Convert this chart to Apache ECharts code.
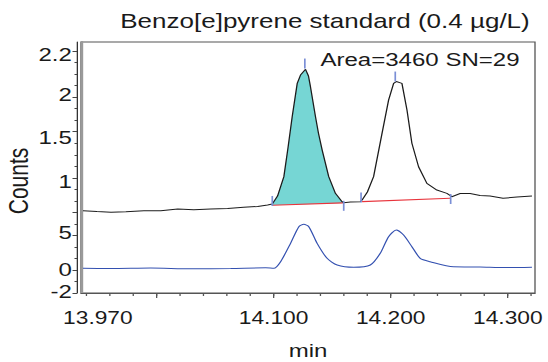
<!DOCTYPE html>
<html>
<head>
<meta charset="utf-8">
<script src="https://cdn.jsdelivr.net/npm/echarts@6/dist/echarts.min.js"></script>
<style>
html,body{margin:0;padding:0;background:#fff;overflow:hidden;}
#wrap{width:548px;height:362px;overflow:hidden;}
#chart{height:362px;transform-origin:0 0;}
</style>
</head>
<body>
<div id="wrap"><div id="chart"></div></div>
<script>
// ---------- data ----------
const titleText = 'Benzo[e]pyrene standard (0.4 µg/L)';
const annotationText = 'Area=3460 SN=29';
const xAxisName = 'min';
const yAxisName = 'Counts';

// x axis (minutes)
const xMin = 13.9356, xMax = 14.3232;
const xMinorTicks = [13.94,13.96,13.98,14.00,14.02,14.04,14.06,14.08,14.10,14.12,14.14,14.16,14.18,14.20,14.22,14.24,14.26,14.28,14.30,14.32];
const xMajorTicks = [14.0,14.1,14.2,14.3];
const xLabelValues = [13.95,14.1,14.2,14.3];
const xLabelTexts = ['13.970','14.100','14.200','14.300'];

// y axis (stacked display units, one unit per minor tick)
const yMin = 0, yMax = 21.79;
const yMinorTicks = [0,1,2,3,4,5,6,7,8,9,10,11,12,13,14,15,16,17,18,19,20,21];
const yMajorTicks = [0,2,5,7,10,14,17,21];
const yLabelValues = [0.1,2,5.2,9.6,13.5,17.2,20.7];
const yLabelTexts = ['-2','0','5','1','1.5','2','2.2'];

// upper (black) trace
const topTime = [13.9373,13.9492,13.9612,13.9739,13.9893,14.0037,14.0182,14.0319,14.0463,14.0608,14.0744,14.0864,14.0949,14.0989,14.1034,14.1088,14.1123,14.1159,14.1202,14.1230,14.1273,14.1298,14.1315,14.1358,14.1383,14.1415,14.1471,14.1528,14.1585,14.1599,14.1656,14.1741,14.1756,14.1801,14.1854,14.1926,14.1982,14.2025,14.2048,14.2096,14.2139,14.2181,14.2238,14.2309,14.2394,14.2480,14.2522,14.2593,14.2678,14.2763,14.2848,14.2959,14.3078,14.3206];
const topSignal = [7.14,7.07,7.01,7.05,7.14,7.13,7.29,7.22,7.29,7.34,7.44,7.51,7.64,7.73,8.42,10.10,12.59,15.30,18.20,18.92,19.42,18.84,17.91,15.30,13.89,12.41,10.10,8.65,7.93,7.84,7.90,7.93,8.07,8.77,10.10,13.86,16.75,18.20,18.36,18.20,15.89,13.00,10.96,9.52,8.94,8.65,8.36,8.64,8.64,8.46,8.42,8.22,8.33,8.42];

// lower (blue) trace
const bottomTime = [13.9373,13.9612,13.9952,14.0293,14.0634,14.0932,14.1003,14.1060,14.1145,14.1216,14.1258,14.1301,14.1372,14.1457,14.1543,14.1684,14.1826,14.1911,14.1982,14.2048,14.2110,14.2181,14.2252,14.2337,14.2536,14.2763,14.2977,14.3206];
const bottomSignal = [2.14,2.13,2.17,2.10,2.13,2.19,2.14,2.72,4.31,5.76,5.96,5.76,4.31,3.01,2.43,2.23,2.43,3.45,4.89,5.47,5.03,4.02,3.01,2.72,2.28,2.26,2.21,2.24];

// integrated peak (filled) : trace index range and baseline
const fillStartIndex = 13, fillEndIndex = 29;
const baseline1Time = [14.0989,14.1592];
const baseline1Signal = [7.62,7.82];
const baseline2Time = [14.1756,14.2508];
const baseline2Signal = [7.93,8.22];

// peak markers (start / end / apex)
const markerTime = [14.0989,14.1599,14.1747,14.2512,14.1267,14.2039];
const markerSignal = [7.99,7.57,8.29,8.16,19.92,18.79];

// ---------- chart ----------
const S = 1.3; // horizontal stretch of the reference
const W = 548 / S;
const el = document.getElementById('chart');
el.style.width = W + 'px';
el.style.transform = 'scaleX(' + S + ')';

const FONT = "'Liberation Sans', Arial, Helvetica, sans-serif";
const TXT = '#1a1a1a';

const zip = (a, b) => a.map((v, i) => [v, b[i]]);
const fmtMap = (vals, texts) => (v) => {
  for (let i = 0; i < vals.length; i++) if (Math.abs(vals[i] - v) < 1e-6) return texts[i];
  return '';
};

const chart = echarts.init(el, null, { renderer: 'svg', width: W, height: 362 });

const option = {
  animation: false,
  grid: { left: 81 / S, right: 13 / S, top: 42, bottom: 69, show: true, borderColor: '#555', borderWidth: 1, backgroundColor: 'transparent', outerBoundsMode: 'none', containLabel: false },
  xAxis: [
    {
      type: 'value', min: xMin, max: xMax, position: 'bottom', offset: 4,
      axisLine: { show: true, lineStyle: { color: '#555', width: 1 } },
      axisTick: { show: true, customValues: xMajorTicks, length: 5, lineStyle: { color: '#555' } },
      axisLabel: { customValues: xLabelValues, formatter: fmtMap(xLabelValues, xLabelTexts), margin: 12, fontSize: 17.5, fontFamily: FONT, color: TXT, showMinLabel: true, showMaxLabel: true },
      splitLine: { show: false },
      name: xAxisName, nameLocation: 'middle', nameGap: 44,
      nameTextStyle: { fontSize: 18.5, fontFamily: FONT, color: TXT }
    },
    {
      type: 'value', min: xMin, max: xMax, position: 'bottom', offset: 4,
      axisLine: { show: false },
      axisTick: { show: true, customValues: xMinorTicks, length: 3, lineStyle: { color: '#555' } },
      axisLabel: { show: false },
      splitLine: { show: false }
    }
  ],
  yAxis: [
    {
      type: 'value', min: yMin, max: yMax, position: 'left', offset: 4 / S,
      axisLine: { show: true, lineStyle: { color: '#333', width: 1 } },
      axisTick: { show: true, customValues: yMinorTicks, length: 2.5 / S, lineStyle: { color: '#444' } },
      axisLabel: { show: false },
      splitLine: { show: false }
    },
    {
      type: 'value', min: yMin, max: yMax, position: 'left', offset: 4 / S,
      axisLine: { show: false },
      axisTick: { show: true, customValues: yMajorTicks, length: 4.5 / S, lineStyle: { color: '#444' } },
      axisLabel: { customValues: yLabelValues, formatter: fmtMap(yLabelValues, yLabelTexts), margin: 4, fontSize: 18.5, fontFamily: FONT, color: TXT, showMinLabel: true, showMaxLabel: true },
      splitLine: { show: false }
    },
    {
      type: 'value', min: yMin, max: yMax, position: 'left', offset: 0,
      axisLine: { show: true, lineStyle: { color: '#9a9a9a', width: 2 } },
      axisTick: { show: false }, axisLabel: { show: false }, splitLine: { show: false }
    }
  ],
  graphic: [
    { type: 'text', x: 325 / S, y: 21, style: { text: titleText, fontSize: 20, fontFamily: FONT, fill: TXT, align: 'center', verticalAlign: 'middle', textAlign: 'center', textVerticalAlign: 'middle' } },
    { type: 'text', x: 420 / S, y: 60, z: 10, style: { text: annotationText, fontSize: 18.5, fontFamily: FONT, fill: TXT, align: 'center', verticalAlign: 'middle', textAlign: 'center', textVerticalAlign: 'middle' } },
    { type: 'text', x: 18 / S, y: 181, rotation: Math.PI / 2, style: { text: yAxisName, fontSize: 21, fontFamily: FONT, fill: TXT, align: 'center', verticalAlign: 'middle', textAlign: 'center', textVerticalAlign: 'middle' } }
  ],
  series: [
    {
      type: 'custom', name: 'peakFill', coordinateSystem: 'cartesian2d', xAxisIndex: 0, yAxisIndex: 0, z: 1, silent: true,
      data: [[baseline1Time[0], baseline1Signal[0]]],
      renderItem: function (params, api) {
        const pts = [];
        for (let i = fillStartIndex; i <= fillEndIndex; i++) pts.push(api.coord([topTime[i], topSignal[i]]));
        pts.push(api.coord([baseline1Time[1], baseline1Signal[1]]));
        pts.push(api.coord([baseline1Time[0], baseline1Signal[0]]));
        return { type: 'polygon', shape: { points: pts }, style: { fill: '#76d6d4', stroke: null } };
      }
    },
    {
      type: 'line', name: 'baseline1', xAxisIndex: 0, yAxisIndex: 0, z: 3, showSymbol: false, silent: true,
      data: zip(baseline1Time, baseline1Signal), lineStyle: { color: '#e8343c', width: 1.1 }
    },
    {
      type: 'line', name: 'baseline2', xAxisIndex: 0, yAxisIndex: 0, z: 3, showSymbol: false, silent: true,
      data: zip(baseline2Time, baseline2Signal), lineStyle: { color: '#e8343c', width: 1.1 }
    },
    {
      type: 'line', name: 'upper', xAxisIndex: 0, yAxisIndex: 0, z: 4, showSymbol: false, silent: true,
      data: zip(topTime, topSignal), lineStyle: { color: '#1c1c1c', width: 1 }
    },
    {
      type: 'line', name: 'lower', xAxisIndex: 0, yAxisIndex: 0, z: 4, showSymbol: false, silent: true, smooth: 0.25,
      data: zip(bottomTime, bottomSignal), lineStyle: { color: '#3350b0', width: 1 }
    },
    {
      type: 'custom', name: 'markers', coordinateSystem: 'cartesian2d', xAxisIndex: 0, yAxisIndex: 0, z: 5, silent: true,
      data: zip(markerTime, markerSignal),
      renderItem: function (params, api) {
        const p = api.coord([api.value(0), api.value(1)]);
        return { type: 'line', shape: { x1: p[0], y1: p[1] - 5, x2: p[0], y2: p[1] + 5 }, style: { stroke: '#7b8fd6', lineWidth: 1.3 } };
      }
    }
  ]
};
chart.setOption(option);
</script>
</body>
</html>
